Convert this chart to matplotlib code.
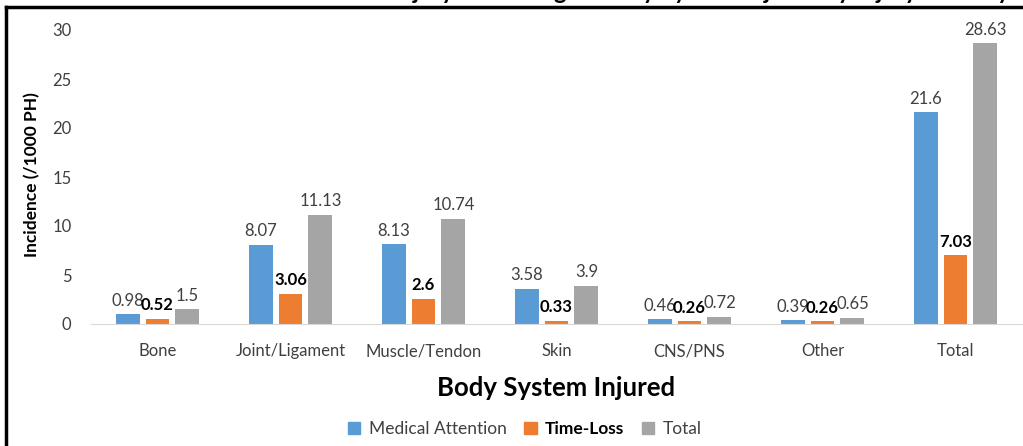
import matplotlib
matplotlib.use("Agg")
import matplotlib.pyplot as plt
import numpy as np
from matplotlib.lines import Line2D

plt.rcParams['font.family'] = ['Lato', 'DejaVu Sans']

categories = ["Bone", "Joint/Ligament", "Muscle/Tendon", "Skin", "CNS/PNS", "Other", "Total"]
medical_attention = [0.98, 8.07, 8.13, 3.58, 0.46, 0.39, 21.6]
time_loss = [0.52, 3.06, 2.6, 0.33, 0.26, 0.26, 7.03]
total = [1.5, 11.13, 10.74, 3.9, 0.72, 0.65, 28.63]
series_names = ["Medical Attention", "Time-Loss", "Total"]
yticks = [0, 5, 10, 15, 20, 25, 30]

colors = ["#5B9BD5", "#ED7D31", "#A5A5A5"]
txt = "#404040"

fig = plt.figure(figsize=(10.23, 4.46), dpi=100)
ax = fig.add_axes([91/1023, 1-324/446, 931/1023, 294/446])

x = np.arange(len(categories))
w = 0.18
off = 0.225
data = [medical_attention, time_loss, total]
for i, (vals, c) in enumerate(zip(data, colors)):
    bars = ax.bar(x + (i-1)*off, vals, width=w, color=c, label=series_names[i], zorder=2)
    for b, v in zip(bars, vals):
        ax.annotate(f"{v:g}", (b.get_x()+b.get_width()/2, v), xytext=(0, 4),
                    textcoords="offset points", ha="center", va="bottom",
                    fontsize=12, color="#000000" if i == 1 else txt,
                    fontweight="bold" if i == 1 else "normal", annotation_clip=False)

ax.set_xlim(-0.5, len(categories)-0.5)
ax.set_ylim(0, 30)
ax.set_yticks(yticks)
ax.set_xticks(x)
ax.set_xticklabels(categories)
for s in ["top", "right", "left"]:
    ax.spines[s].set_visible(False)
ax.spines["bottom"].set_color("#D9D9D9")
ax.tick_params(axis="both", length=0, labelsize=12, labelcolor=txt)
ax.tick_params(axis="x", pad=14)
ax.tick_params(axis="y", pad=14)
ax.set_ylabel("Incidence (/1000 PH)", fontsize=12.5, fontweight="bold", color="#000000")
ax.yaxis.set_label_coords((40-91)/931, (324-175)/294)
ax.set_xlabel("Body System Injured", fontsize=18.5, fontweight="bold", color="#000000", labelpad=12)

handles = [plt.Rectangle((0, 0), 1, 1, color=c) for c in colors]
leg = fig.legend(handles, series_names, loc="center", bbox_to_anchor=(525/1023, 1-429/446),
                 ncol=3, frameon=False, fontsize=12.5, handlelength=0.7, handleheight=0.7,
                 columnspacing=1.0, handletextpad=0.5)
for t, lab in zip(leg.get_texts(), series_names):
    t.set_color(txt)
    if lab == "Time-Loss":
        t.set_fontweight("bold")
        t.set_color("#000000")

# frame lines (left and top)
fig.add_artist(Line2D([6/1023, 6/1023], [0, 1-7/446], transform=fig.transFigure, color="black", lw=2.5))
fig.add_artist(Line2D([6/1023, 1], [1-7/446, 1-7/446], transform=fig.transFigure, color="black", lw=2.5))

# cropped title (mostly outside the image)
fig.text(0.62, 1+1/446, "Incidence of Injury According to Body System Injured by Injury Severity",
         ha="center", va="baseline", fontsize=17, fontweight="bold", color="black")

fig.savefig("out.png", dpi=100)
